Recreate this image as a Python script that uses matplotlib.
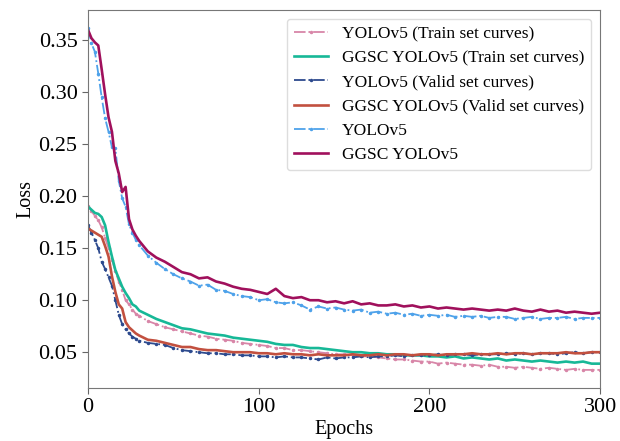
import matplotlib
matplotlib.use("Agg")
import matplotlib.pyplot as plt

plt.rcParams['font.family'] = ['Liberation Serif', 'DejaVu Serif']

epochs = [0, 2, 4, 6, 8, 10, 12, 14, 16, 18, 20, 22, 24, 26, 28,
          30, 35, 40, 45, 50, 55, 60, 65, 70, 75, 80, 85, 90, 95, 100,
          105, 110, 115, 120, 125, 130, 135, 140, 145, 150, 155, 160, 165, 170, 175,
          180, 185, 190, 195, 200, 205, 210, 215, 220, 225, 230, 235, 240, 245, 250,
          255, 260, 265, 270, 275, 280, 285, 290, 295, 300]

yolo_train = [0.191, 0.186, 0.181, 0.177, 0.170, 0.160, 0.150, 0.139, 0.128, 0.118, 0.110, 0.100, 0.096, 0.091, 0.087,
              0.085, 0.080, 0.077, 0.074, 0.072, 0.070, 0.068, 0.066, 0.065, 0.063, 0.062, 0.061, 0.059, 0.058, 0.057,
              0.056, 0.054, 0.054, 0.052, 0.052, 0.051, 0.050, 0.049, 0.048, 0.048, 0.047, 0.046, 0.046, 0.045, 0.044,
              0.043, 0.043, 0.042, 0.041, 0.041, 0.039, 0.040, 0.039, 0.038, 0.038, 0.037, 0.038, 0.036, 0.036, 0.035,
              0.036, 0.035, 0.034, 0.035, 0.034, 0.033, 0.034, 0.033, 0.033, 0.033]

ggsc_train = [0.190, 0.187, 0.184, 0.183, 0.180, 0.172, 0.156, 0.142, 0.129, 0.121, 0.113, 0.107, 0.102, 0.096, 0.094,
              0.090, 0.086, 0.082, 0.079, 0.076, 0.073, 0.072, 0.070, 0.068, 0.067, 0.066, 0.064, 0.063, 0.062, 0.061,
              0.060, 0.058, 0.057, 0.057, 0.055, 0.054, 0.054, 0.053, 0.052, 0.051, 0.050, 0.050, 0.049, 0.049, 0.048,
              0.048, 0.047, 0.047, 0.047, 0.046, 0.046, 0.045, 0.046, 0.044, 0.045, 0.044, 0.043, 0.044, 0.042, 0.043,
              0.042, 0.041, 0.042, 0.041, 0.040, 0.041, 0.040, 0.041, 0.039, 0.039]

yolo_valid = [0.172, 0.165, 0.158, 0.150, 0.137, 0.130, 0.122, 0.114, 0.100, 0.086, 0.077, 0.072, 0.068, 0.065, 0.063,
              0.061, 0.059, 0.058, 0.057, 0.054, 0.052, 0.051, 0.050, 0.049, 0.049, 0.048, 0.048, 0.047, 0.047, 0.046,
              0.046, 0.045, 0.046, 0.045, 0.045, 0.044, 0.043, 0.045, 0.044, 0.045, 0.045, 0.046, 0.045, 0.046, 0.046,
              0.047, 0.046, 0.047, 0.047, 0.047, 0.048, 0.047, 0.048, 0.048, 0.047, 0.048, 0.048, 0.048, 0.049, 0.048,
              0.049, 0.048, 0.049, 0.049, 0.048, 0.049, 0.050, 0.049, 0.050, 0.050]

ggsc_valid = [0.169, 0.167, 0.165, 0.163, 0.161, 0.152, 0.142, 0.123, 0.108, 0.096, 0.092, 0.079, 0.074, 0.071, 0.068,
              0.066, 0.062, 0.061, 0.059, 0.057, 0.055, 0.055, 0.053, 0.052, 0.052, 0.051, 0.050, 0.050, 0.050, 0.049,
              0.049, 0.048, 0.049, 0.048, 0.048, 0.047, 0.048, 0.047, 0.047, 0.047, 0.048, 0.047, 0.047, 0.048, 0.047,
              0.048, 0.048, 0.047, 0.048, 0.048, 0.047, 0.048, 0.048, 0.048, 0.049, 0.048, 0.048, 0.049, 0.048, 0.049,
              0.049, 0.048, 0.049, 0.049, 0.049, 0.050, 0.049, 0.049, 0.050, 0.050]

yolo_total = [0.362, 0.347, 0.339, 0.318, 0.295, 0.275, 0.262, 0.247, 0.246, 0.215, 0.198, 0.190, 0.173, 0.165, 0.158,
              0.153, 0.143, 0.136, 0.130, 0.125, 0.121, 0.118, 0.114, 0.115, 0.110, 0.109, 0.106, 0.104, 0.103, 0.100,
              0.101, 0.098, 0.097, 0.098, 0.095, 0.091, 0.094, 0.092, 0.093, 0.091, 0.090, 0.091, 0.088, 0.089, 0.087,
              0.088, 0.086, 0.087, 0.085, 0.086, 0.085, 0.086, 0.084, 0.085, 0.084, 0.085, 0.083, 0.084, 0.084, 0.082,
              0.083, 0.084, 0.082, 0.083, 0.083, 0.084, 0.082, 0.083, 0.083, 0.083]

ggsc_total = [0.360, 0.352, 0.348, 0.345, 0.322, 0.298, 0.276, 0.262, 0.234, 0.222, 0.204, 0.209, 0.178, 0.168, 0.162,
              0.157, 0.147, 0.141, 0.137, 0.132, 0.127, 0.125, 0.121, 0.122, 0.118, 0.116, 0.113, 0.111, 0.110, 0.108,
              0.106, 0.111, 0.104, 0.102, 0.103, 0.100, 0.100, 0.098, 0.099, 0.097, 0.099, 0.096, 0.097, 0.095, 0.095,
              0.096, 0.094, 0.095, 0.093, 0.094, 0.092, 0.093, 0.092, 0.091, 0.092, 0.091, 0.090, 0.091, 0.090, 0.092,
              0.090, 0.089, 0.091, 0.089, 0.090, 0.088, 0.089, 0.088, 0.087, 0.088]

fig = plt.figure(figsize=(6.2, 4.41), dpi=100)
ax = fig.add_axes([0.142, 0.12, 0.826, 0.857])

ax.plot(epochs, yolo_train, color='#d886a8', linestyle='-.', marker='.', markersize=3, linewidth=1.3,
        label='YOLOv5 (Train set curves)')
ax.plot(epochs, ggsc_train, color='#17b897', linewidth=1.9, label='GGSC YOLOv5 (Train set curves)')
ax.plot(epochs, yolo_valid, color='#2d4a8e', linestyle='-.', marker='.', markersize=3, linewidth=1.3,
        label='YOLOv5 (Valid set curves)')
ax.plot(epochs, ggsc_valid, color='#c2503f', linewidth=1.9, label='GGSC YOLOv5 (Valid set curves)')
ax.plot(epochs, yolo_total, color='#4ea2ea', linestyle='-.', marker='.', markersize=3, linewidth=1.3,
        label='YOLOv5')
ax.plot(epochs, ggsc_total, color='#a0105c', linewidth=1.9, label='GGSC YOLOv5')

ax.set_xlim(0, 300)
ax.set_ylim(0.0155, 0.379)
ax.set_xticks([0, 100, 200, 300])
ax.set_yticks([0.05, 0.10, 0.15, 0.20, 0.25, 0.30, 0.35])
ax.set_yticklabels(['0.05', '0.10', '0.15', '0.20', '0.25', '0.30', '0.35'])
ax.tick_params(labelsize=16, length=4, color='#666666')
for sp in ax.spines.values():
    sp.set_color('#777777')

ax.set_xlabel('Epochs', fontsize=14.5, labelpad=2)
ax.set_ylabel('Loss', fontsize=14.5, labelpad=2)

ax.legend(loc='upper right', fontsize=12.5, labelspacing=0.47, handlelength=2.0,
          borderaxespad=0.5, framealpha=1, edgecolor='#dddddd')

fig.savefig('out.png', dpi=100)
